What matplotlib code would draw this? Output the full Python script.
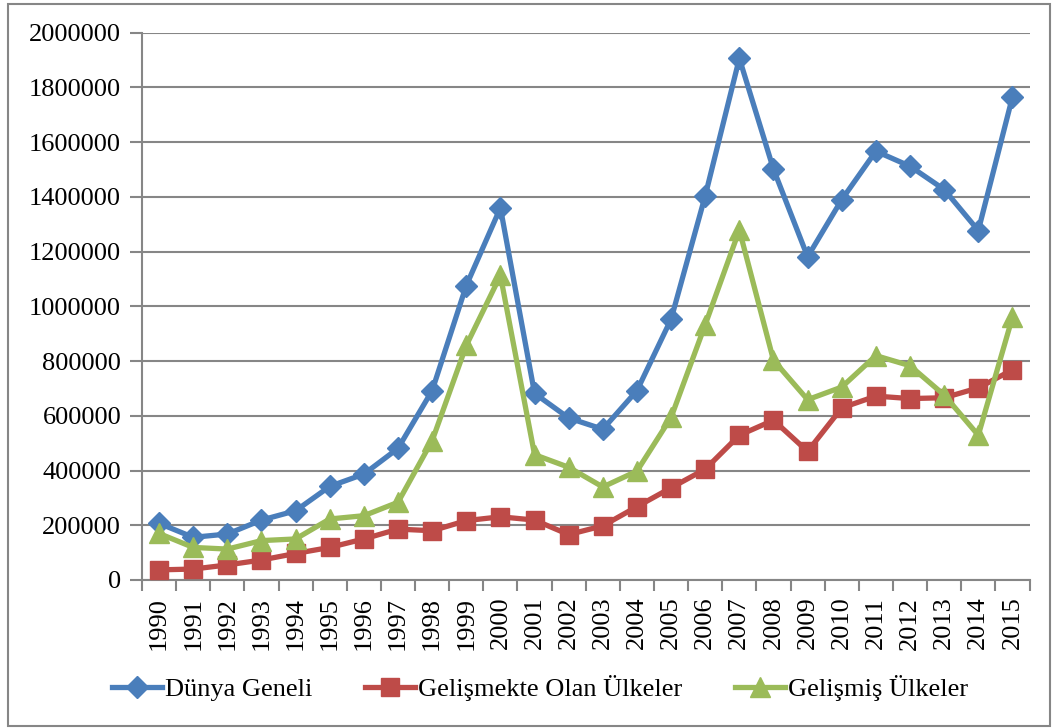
import matplotlib.pyplot as plt
import matplotlib.patches as patches
import numpy as np

years = [str(y) for y in range(1990, 2016)]

# Dünya Geneli
dunya = [207000, 156000, 168000, 219000, 253000, 342000, 387000, 481000, 692000, 1076000,
         1360000, 682000, 592000, 551000, 692000, 953000, 1404000, 1906000, 1501000, 1181000,
         1390000, 1567000, 1512000, 1427000, 1277000, 1765000]
# Gelişmekte Olan Ülkeler
gelismekte = [37000, 40000, 55000, 73000, 97000, 119000, 150000, 186000, 180000, 217000,
              231000, 219000, 166000, 198000, 268000, 337000, 405000, 529000, 584000, 470000,
              629000, 672000, 663000, 666000, 702000, 768000]
# Gelişmiş Ülkeler
gelismis = [170000, 119000, 113000, 144000, 150000, 223000, 235000, 284000, 509000, 857000,
            1113000, 458000, 412000, 340000, 398000, 594000, 933000, 1279000, 803000, 659000,
            705000, 820000, 783000, 676000, 529000, 960000]

plt.rcParams['font.family'] = ['Liberation Serif', 'DejaVu Serif']

fig = plt.figure(figsize=(10.55, 7.28), dpi=100)
ax = fig.add_axes([142/1055, 1 - 580/728, (1029.5 - 142)/1055, (580 - 32.7)/728])

x = np.arange(len(years))
ax.plot(x, dunya, color='#4A7EBB', lw=3.8, marker='D', ms=11, label='Dünya Geneli', zorder=3)
ax.plot(x, gelismekte, color='#BE4B48', lw=3.8, marker='s', ms=13, label='Gelişmekte Olan Ülkeler', zorder=4)
ax.plot(x, gelismis, color='#9BBB59', lw=3.8, marker='^', ms=14, label='Gelişmiş Ülkeler', zorder=5)

ax.set_xlim(-0.5, len(years) - 0.5)
ax.set_ylim(0, 2000000)
ax.set_yticks(np.arange(0, 2000001, 200000))
ax.set_yticklabels([str(v) for v in range(0, 2000001, 200000)], fontsize=19)
ax.set_xticks(x)
ax.set_xticklabels(years, rotation=90, fontsize=19)
ax.set_xticks(np.arange(-0.5, len(years)), minor=True)
ax.tick_params(axis='x', which='major', length=0, pad=12)
ax.tick_params(axis='x', which='minor', length=8, width=1.5, color='#868686')
ax.tick_params(axis='y', length=9, width=1.5, color='#868686', pad=6)
ax.grid(axis='y', color='#868686', lw=1.5)
ax.set_axisbelow(True)
for s in ['top', 'right']:
    ax.spines[s].set_visible(False)
for s in ['left', 'bottom']:
    ax.spines[s].set_color('#868686')
    ax.spines[s].set_linewidth(1.5)

fig.legend(loc='center', bbox_to_anchor=(540/1055, 1 - 688/728), ncol=3, frameon=False,
           fontsize=19, handlelength=1.9, handletextpad=0.1, columnspacing=2.0)

fig.patches.append(patches.Rectangle((8/1055, 1 - 726/728), (1050 - 8)/1055, (726 - 4)/728,
                                     transform=fig.transFigure, fill=False,
                                     edgecolor='#868686', lw=1.5))

fig.savefig('out.png', dpi=100)
